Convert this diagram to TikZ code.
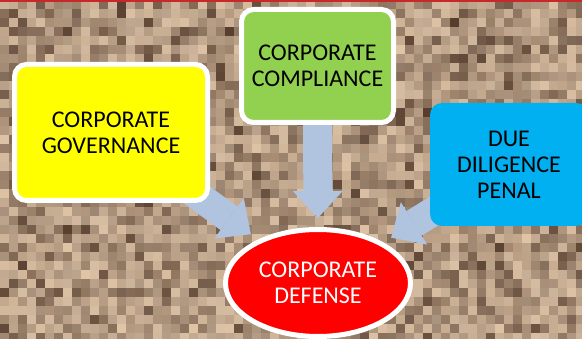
\documentclass[tikz,border=0pt]{standalone}
\usepackage{fontspec}
\setmainfont{Carlito}
\usepackage{tikz}
\usetikzlibrary{arrows.meta,shapes.geometric,positioning}
\definecolor{govYellow}{HTML}{FFFF00}
\definecolor{compGreen}{HTML}{92D050}
\definecolor{dueBlue}{HTML}{00B0F0}
\definecolor{defRed}{HTML}{FF0000}
\definecolor{arrowBlue}{HTML}{B0C3DF}
\definecolor{stoneLight}{HTML}{E2C6A8}
\definecolor{stoneDark}{HTML}{4A3020}
\definecolor{stoneGrey}{HTML}{A0968A}
\definecolor{topRed}{HTML}{C8282A}
\pgfdeclarelayer{stones}
\pgfdeclarelayer{arrows}
\pgfsetlayers{stones,arrows,main}
\tikzset{
  box/.style={rectangle, rounded corners=12pt, draw=white, line width=5pt, align=center, text=black, inner sep=0pt, font=\fontsize{24}{26}\selectfont},
  goal/.style={ellipse, draw=white, line width=5pt, fill=defRed, text=white, align=center, inner sep=0pt, minimum width=185pt, minimum height=107pt, font=\fontsize{24}{26}\selectfont},
  bigarrow/.style={draw=arrowBlue, line width=29pt, -{Triangle[width=50pt,length=27pt,line width=0pt]}, shorten >=9pt}
}

\begin{document}
\begin{tikzpicture}[x=1pt, y=-1pt]
    \useasboundingbox (0,0) rectangle (582,339);
    % stone mosaic behind everything
    \begin{pgfonlayer}{stones}
    \pgfmathsetseed{7}
    \foreach \i in {0,...,64}{
      \foreach \j in {0,...,37}{
        \pgfmathsetmacro\shade{int(100*rnd^0.5)}
        \pgfmathsetmacro\keep{int(78+22*rnd)}
        \fill[stoneLight!\shade!stoneDark!\keep!stoneGrey] (\i*9,\j*9) rectangle ++(9,9);
      }
    }
    \draw[topRed, line width=2.5pt] (0,1.25) -- (582,1.25);
    \end{pgfonlayer}
    \node [box, fill=govYellow, minimum width=193pt, minimum height=136pt] (gov) at (111,132.5) {CORPORATE\\GOVERNANCE};
    \node [box, fill=compGreen, minimum width=152pt, minimum height=113pt] (comp) at (317.5,66) {CORPORATE\\COMPLIANCE};
    \node [box, fill=dueBlue, draw=none, minimum width=158pt, minimum height=123pt] (due) at (509,164.5) {DUE\\DILIGENCE\\PENAL};
    \node [goal] (def) at (318,283) {CORPORATE\\DEFENSE};
    \begin{pgfonlayer}{arrows}
    \draw [bigarrow] (gov.center) -- (def);
    \draw [bigarrow] (comp.center) -- (def);
    \draw [bigarrow] (due.center) -- (def);
    \end{pgfonlayer}
\end{tikzpicture}
\end{document}
